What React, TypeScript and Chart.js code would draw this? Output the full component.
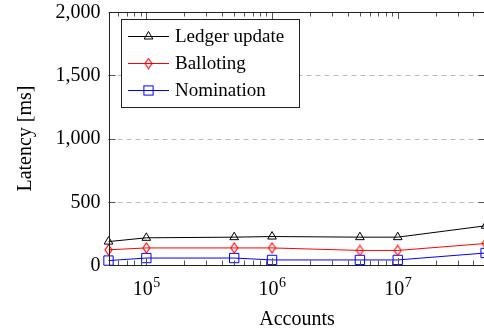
import React, { useEffect, useRef } from "react";
import { Chart, registerables } from "chart.js";

Chart.register(...registerables);

const accounts = [5e4, 1e5, 5e5, 1e6, 5e6, 1e7, 5e7];
const ledgerUpdate = [185, 215, 220, 225, 220, 220, 310];
const balloting = [120, 135, 135, 135, 115, 115, 170];
const nomination = [35, 55, 55, 40, 40, 40, 95];
const seriesNames = ["Ledger update", "Balloting", "Nomination"];
const seriesColors = ["#000000", "#ff0000", "#0000ff"];
const yTicks = [0, 500, 1000, 1500, 2000];
const yGridValues = [500, 1000, 1500];
const xMajorExponents = [5, 6, 7];

const FONT = "'Liberation Serif', 'Times New Roman', serif";

function makeDiamond(color: string): HTMLCanvasElement {
  const c = document.createElement("canvas");
  c.width = 9;
  c.height = 12;
  const g = c.getContext("2d")!;
  g.strokeStyle = color;
  g.lineWidth = 1.1;
  g.beginPath();
  g.moveTo(4.5, 1);
  g.lineTo(8, 6);
  g.lineTo(4.5, 11);
  g.lineTo(1, 6);
  g.closePath();
  g.stroke();
  return c;
}

function drawMarker(ctx: CanvasRenderingContext2D, kind: number, x: number, y: number, color: string, diamond: HTMLCanvasElement) {
  ctx.save();
  ctx.strokeStyle = color;
  ctx.lineWidth = 1;
  if (kind === 0) {
    const r = 5;
    ctx.beginPath();
    ctx.moveTo(x, y - r);
    ctx.lineTo(x + r * 0.866, y + r / 2);
    ctx.lineTo(x - r * 0.866, y + r / 2);
    ctx.closePath();
    ctx.stroke();
  } else if (kind === 1) {
    ctx.drawImage(diamond, x - diamond.width / 2, y - diamond.height / 2);
  } else {
    const s = 4.6;
    ctx.strokeRect(x - s, y - s, 2 * s, 2 * s);
  }
  ctx.restore();
}

export default function App() {
  const ref = useRef<HTMLCanvasElement | null>(null);

  useEffect(() => {
    const canvas = ref.current!;
    const diamondRed = makeDiamond("#ff0000");

    const framePlugin = {
      id: "pgfFrame",
      beforeDatasetsDraw(chart: any) {
        const { ctx, chartArea } = chart;
        const y = chart.scales.y;
        ctx.save();
        ctx.strokeStyle = "#bdbdbd";
        ctx.lineWidth = 1;
        ctx.setLineDash([5, 4]);
        for (const v of yGridValues) {
          const py = Math.round(y.getPixelForValue(v)) + 0.5;
          ctx.beginPath();
          ctx.moveTo(chartArea.left, py);
          ctx.lineTo(chartArea.right, py);
          ctx.stroke();
        }
        ctx.restore();
      },
      afterDraw(chart: any) {
        const { ctx, chartArea } = chart;
        const xs = chart.scales.x;
        const ys = chart.scales.y;
        const L = chartArea.left, R = chartArea.right, T = chartArea.top, B = chartArea.bottom;
        ctx.save();
        ctx.strokeStyle = "#555";
        ctx.lineWidth = 1;
        const drawXTick = (v: number, len: number) => {
          const px = Math.round(xs.getPixelForValue(v)) + 0.5;
          ctx.beginPath();
          ctx.moveTo(px, B);
          ctx.lineTo(px, B - len);
          ctx.moveTo(px, T);
          ctx.lineTo(px, T + len);
          ctx.stroke();
        };
        for (let e = 4; e <= 7; e++) {
          for (let k = 2; k <= 9; k++) {
            const v = k * Math.pow(10, e);
            if (v >= 5e4 && v <= 5e7) drawXTick(v, 4.5);
          }
        }
        for (const e of xMajorExponents) drawXTick(Math.pow(10, e), 7);
        for (const v of yTicks) {
          const py = Math.round(ys.getPixelForValue(v)) + 0.5;
          ctx.beginPath();
          ctx.moveTo(L, py);
          ctx.lineTo(L + 7, py);
          ctx.moveTo(R, py);
          ctx.lineTo(R - 7, py);
          ctx.stroke();
        }
        ctx.strokeStyle = "#222";
        ctx.strokeRect(Math.round(L) + 0.5, Math.round(T) + 0.5, Math.round(R - L), Math.round(B - T));

        ctx.fillStyle = "#000";
        ctx.font = `20px ${FONT}`;
        ctx.textAlign = "right";
        ctx.textBaseline = "middle";
        for (const v of yTicks) {
          ctx.fillText(v.toLocaleString("en-US"), L - 8, ys.getPixelForValue(v) + 0.5);
        }
        ctx.textAlign = "left";
        ctx.textBaseline = "alphabetic";
        for (const e of xMajorExponents) {
          const px = xs.getPixelForValue(Math.pow(10, e));
          ctx.font = `20px ${FONT}`;
          const w1 = ctx.measureText("10").width;
          ctx.font = `14px ${FONT}`;
          const w2 = ctx.measureText(String(e)).width;
          const x0 = px - (w1 + w2) / 2;
          ctx.font = `20px ${FONT}`;
          ctx.fillText("10", x0, 295);
          ctx.font = `14px ${FONT}`;
          ctx.fillText(String(e), x0 + w1 + 0.5, 287);
        }
        ctx.font = `20px ${FONT}`;
        ctx.textAlign = "center";
        ctx.fillText("Accounts", (L + R) / 2, 325);
        ctx.save();
        ctx.translate(31, (T + B) / 2);
        ctx.rotate(-Math.PI / 2);
        ctx.fillText("Latency [ms]", 0, 0);
        ctx.restore();

        const bx = 121.5, by = 19.5, bw = 178, bh = 88;
        ctx.fillStyle = "#fff";
        ctx.fillRect(bx, by, bw, bh);
        ctx.strokeStyle = "#222";
        ctx.strokeRect(bx, by, bw, bh);
        const rows = [36, 63, 89.5];
        for (let i = 0; i < 3; i++) {
          const ry = rows[i];
          ctx.strokeStyle = seriesColors[i];
          ctx.lineWidth = 1;
          ctx.beginPath();
          ctx.moveTo(128, Math.round(ry) + 0.5);
          ctx.lineTo(169, Math.round(ry) + 0.5);
          ctx.stroke();
          drawMarker(ctx, i, 148.5, Math.round(ry) + 0.5, seriesColors[i], diamondRed);
          ctx.fillStyle = "#000";
          ctx.font = `19px ${FONT}`;
          ctx.textAlign = "left";
          ctx.textBaseline = "alphabetic";
          ctx.fillText(seriesNames[i], 175, ry + 6);
        }
        ctx.restore();
      },
    };

    const mk = (i: number, data: number[], style: any, radius: number) => ({
      label: seriesNames[i],
      data: accounts.map((a, j) => ({ x: a, y: data[j] })),
      borderColor: seriesColors[i],
      borderWidth: 1,
      pointStyle: style,
      pointRadius: radius,
      pointBorderWidth: 1,
      pointBorderColor: seriesColors[i],
      pointBackgroundColor: "transparent",
      clip: false as any,
      tension: 0,
    });

    const chart = new Chart(canvas, {
      type: "line",
      data: {
        datasets: [
          mk(0, ledgerUpdate, "triangle", 5),
          mk(1, balloting, diamondRed, 5),
          mk(2, nomination, "rect", 6.6),
        ],
      },
      options: {
        animation: false,
        responsive: false,
        devicePixelRatio: 1,
        layout: { padding: { left: 108.5, top: 12, right: 14.4, bottom: 68 } },
        plugins: { legend: { display: false }, tooltip: { enabled: false } },
        scales: {
          x: { type: "logarithmic", min: 5e4, max: 5e7, display: false },
          y: { type: "linear", min: 0, max: 2000, display: false },
        },
      },
      plugins: [framePlugin],
    });
    return () => chart.destroy();
  }, []);

  return (
    <div style={{ position: "fixed", left: 0, top: 0, width: 484, height: 333, overflow: "hidden", background: "#fff" }}>
      <canvas ref={ref} width={500} height={333} style={{ width: 500, height: 333, display: "block" }} />
    </div>
  );
}
